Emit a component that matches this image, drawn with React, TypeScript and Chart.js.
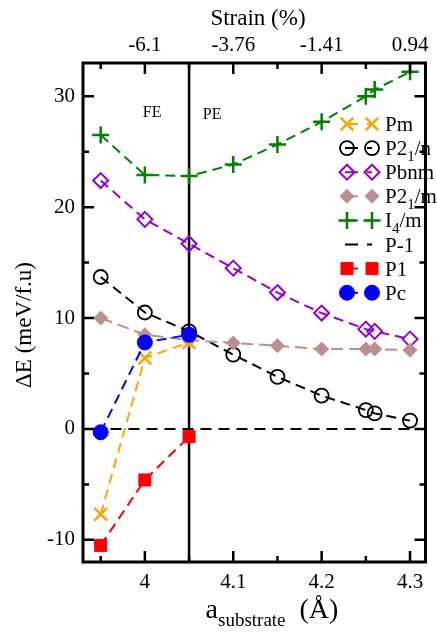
import React, { useEffect, useRef } from 'react';
import { Chart, registerables } from 'chart.js';
import { drawPoint } from 'chart.js/helpers';
Chart.register(...registerables);

// ---- data ----
const aAll = [3.95, 4.0, 4.05, 4.1, 4.15, 4.2, 4.25, 4.26, 4.3];
const aFE = [3.95, 4.0, 4.05];
const pmE = [-7.7, 6.4, 7.8];
const p1E = [-10.5, -4.6, -0.7];
const pcE = [-0.3, 7.8, 8.5];
const p21nE = [13.7, 10.5, 8.8, 6.7, 4.7, 3.0, 1.7, 1.4, 0.75];
const pbnmE = [22.4, 18.9, 16.7, 14.5, 12.3, 10.45, 9.0, 8.8, 8.1];
const p21mE = [10.0, 8.5, 8.0, 7.75, 7.5, 7.2, 7.2, 7.2, 7.1];
const i4mE = [26.5, 22.9, 22.8, 23.85, 25.65, 27.7, 30.0, 30.6, 32.2];
const refX = [3.9, 4.35];
const refE = [0, 0];

const seriesNames = ['Pm', 'P2_1/n', 'Pbnm', 'P2_1/m', 'I_4/m', 'P-1', 'P1', 'Pc'];
const xMajor = [4, 4.1, 4.2, 4.3];
const xMinor = [3.95, 4.05, 4.15, 4.25];
const strainLabels = ['-6.1', '-3.76', '-1.41', '0.94'];
const yMajor = [-10, 0, 10, 20, 30];
const yMinor = [-5, 5, 15, 25];
const xMin = 3.93;
const xMax = 4.3175;
const yMin = -12;
const yMax = 33;
const phaseBoundary = 4.05;

const FONT = '"Liberation Serif", "Times New Roman", serif';

const pts = (xs: number[], ys: number[]) => ys.map((y, i) => ({ x: xs[i], y }));

function drawRich(ctx: CanvasRenderingContext2D, text: string, x: number, y: number, size: number, subSize: number, align: 'left' | 'center') {
  const segs: { t: string; sub: boolean }[] = [];
  let i = 0;
  let buf = '';
  while (i < text.length) {
    const c = text[i];
    if (c === '_') {
      if (buf) { segs.push({ t: buf, sub: false }); buf = ''; }
      if (text[i + 1] === '{') {
        const end = text.indexOf('}', i + 2);
        segs.push({ t: text.slice(i + 2, end), sub: true });
        i = end + 1;
      } else {
        segs.push({ t: text[i + 1], sub: true });
        i += 2;
      }
    } else {
      buf += c;
      i++;
    }
  }
  if (buf) segs.push({ t: buf, sub: false });
  let total = 0;
  const widths = segs.map((s) => {
    ctx.font = `${s.sub ? subSize : size}px ${FONT}`;
    const w = ctx.measureText(s.t).width;
    total += w;
    return w;
  });
  let cx = align === 'center' ? x - total / 2 : x;
  ctx.textAlign = 'left';
  ctx.textBaseline = 'alphabetic';
  segs.forEach((s, k) => {
    ctx.font = `${s.sub ? subSize : size}px ${FONT}`;
    ctx.fillText(s.t, cx, s.sub ? y + size * 0.28 : y);
    cx += widths[k];
  });
}

const overlay = {
  id: 'overlay',
  beforeDatasetsDraw(chart: any) {
    const { ctx, chartArea: a, scales } = chart;
    const x = scales.x;
    ctx.save();
    const px = x.getPixelForValue(phaseBoundary);
    ctx.strokeStyle = '#000';
    ctx.lineWidth = 2.5;
    ctx.beginPath();
    ctx.moveTo(px, a.top);
    ctx.lineTo(px, a.bottom);
    ctx.stroke();
    ctx.fillStyle = '#000';
    ctx.font = `16px ${FONT}`;
    ctx.textAlign = 'center';
    ctx.textBaseline = 'middle';
    ctx.fillText('FE', px - 37, a.top + 50);
    ctx.fillText('PE', px + 23, a.top + 52);
    ctx.restore();
  },
  afterDraw(chart: any) {
    const { ctx, chartArea: a, scales } = chart;
    const x = scales.x;
    const y = scales.y;
    ctx.save();
    ctx.strokeStyle = '#000';
    ctx.lineWidth = 3;
    ctx.strokeRect(a.left, a.top, a.right - a.left, a.bottom - a.top);
    ctx.lineWidth = 2.5;
    ctx.beginPath();
    const tick = (vals: number[], len: number) => {
      vals.forEach((v) => {
        const p = x.getPixelForValue(v);
        ctx.moveTo(p, a.bottom); ctx.lineTo(p, a.bottom - len);
        ctx.moveTo(p, a.top); ctx.lineTo(p, a.top + len);
      });
    };
    const ytick = (vals: number[], len: number) => {
      vals.forEach((v) => {
        const p = y.getPixelForValue(v);
        ctx.moveTo(a.left, p); ctx.lineTo(a.left + len, p);
        ctx.moveTo(a.right, p); ctx.lineTo(a.right - len, p);
      });
    };
    tick(xMajor, 11);
    tick(xMinor, 6);
    ytick(yMajor, 11);
    ytick(yMinor, 6);
    ctx.stroke();

    ctx.fillStyle = '#000';
    drawRich(ctx, 'Strain (%)', 258, 25, 23, 16, 'center');
    drawRich(ctx, 'a_{substrate}  (Å)', 272, 618, 28, 19, 'center');
    ctx.save();
    ctx.translate(31, 325);
    ctx.rotate(-Math.PI / 2);
    drawRich(ctx, 'ΔE (meV/f.u)', 0, 0, 23, 16, 'center');
    ctx.restore();

    const ds = chart.data.datasets;
    const x1 = 347;
    const x2 = 372;
    seriesNames.forEach((name, i) => {
      const d = ds.find((q: any) => q.label === name);
      const ly = 124 + i * 24.1;
      ctx.save();
      ctx.strokeStyle = d.borderColor;
      ctx.lineWidth = 2;
      ctx.setLineDash([13, 9]);
      ctx.beginPath();
      ctx.moveTo(x1 - 2, ly);
      ctx.lineTo(x2, ly);
      ctx.stroke();
      ctx.setLineDash([]);
      if (d.pointRadius > 0) {
        [x1, x2].forEach((mx) => {
          ctx.fillStyle = d.pointBackgroundColor;
          ctx.strokeStyle = d.pointBorderColor;
          ctx.lineWidth = d.pointBorderWidth;
          drawPoint(ctx, { pointStyle: d.pointStyle, radius: d.pointRadius, rotation: 0, borderWidth: d.pointBorderWidth }, mx, ly);
        });
      }
      ctx.restore();
      ctx.fillStyle = '#000';
      drawRich(ctx, name, 385, ly + 7, 21, 15, 'left');
    });
    ctx.restore();
  },
};

function mk(label: string, xs: number[], ys: number[], color: string, style: string, radius: number, fill: boolean, bw: number, order: number, dash: number[]) {
  return {
    label,
    data: pts(xs, ys),
    borderColor: color,
    borderWidth: 2,
    borderDash: dash,
    pointStyle: style,
    pointRadius: radius,
    pointBackgroundColor: fill ? color : 'rgba(0,0,0,0)',
    pointBorderColor: color,
    pointBorderWidth: bw,
    tension: 0,
    fill: false,
    order,
  };
}

export default function App() {
  const ref = useRef<HTMLCanvasElement>(null);
  useEffect(() => {
    if (!ref.current) return;
    const tickFont = { family: FONT, size: 21 };
    const chart = new Chart(ref.current, {
      type: 'line',
      data: {
        datasets: [
          mk('Pm', aFE, pmE, '#FFA500', 'crossRot', 9, false, 2.5, 2, [10, 6]),
          mk('P2_1/n', aAll, p21nE, '#000000', 'circle', 7, false, 1.8, 4, [10, 6]),
          mk('Pbnm', aAll, pbnmE, '#9400D3', 'rectRot', 7.5, false, 2, 5, [10, 6]),
          mk('P2_1/m', aAll, p21mE, '#BC8F8F', 'rectRot', 7, true, 1, 3, [12, 6]),
          mk('I_4/m', aAll, i4mE, '#008000', 'cross', 8.5, false, 2.5, 6, [10, 6]),
          mk('P-1', refX, refE, '#000000', 'circle', 0, false, 0, 7, [11, 7]),
          mk('P1', aFE, p1E, '#FF0000', 'rect', 8.5, true, 1, 1, [10, 6]),
          mk('Pc', aFE, pcE, '#0000FF', 'circle', 7.5, true, 1, 0, [10, 6]),
        ] as any,
      },
      options: {
        responsive: false,
        animation: false,
        layout: { padding: { left: 0, right: 1, top: 0, bottom: 0 } },
        plugins: { legend: { display: false }, tooltip: { enabled: false } },
        scales: {
          x: {
            type: 'linear',
            position: 'bottom',
            min: xMin,
            max: xMax,
            grid: { display: false, drawTicks: false },
            border: { display: false },
            ticks: { font: tickFont, color: '#000', padding: 8, maxRotation: 0, autoSkip: false, callback: (v: any) => String(v) },
            afterBuildTicks: (s: any) => { s.ticks = xMajor.map((v) => ({ value: v })); },
            afterFit: (s: any) => { s.height = 71; },
          },
          x2: {
            type: 'linear',
            position: 'top',
            min: xMin,
            max: xMax,
            grid: { display: false, drawTicks: false },
            border: { display: false },
            ticks: { font: tickFont, color: '#000', padding: 5, maxRotation: 0, autoSkip: false, callback: (_v: any, i: number) => strainLabels[i] },
            afterBuildTicks: (s: any) => { s.ticks = xMajor.map((v) => ({ value: v })); },
            afterFit: (s: any) => { s.height = 63; },
          },
          y: {
            type: 'linear',
            position: 'left',
            min: yMin,
            max: yMax,
            grid: { display: false, drawTicks: false },
            border: { display: false },
            ticks: { font: tickFont, color: '#000', padding: 8, autoSkip: false },
            afterBuildTicks: (s: any) => { s.ticks = yMajor.map((v) => ({ value: v })); },
            afterFit: (s: any) => { s.width = 83; },
          },
        },
      } as any,
      plugins: [overlay],
    });
    return () => chart.destroy();
  }, []);
  return (
    <div style={{ position: 'absolute', left: 0, top: 0, width: 437, height: 633, background: '#fff' }}>
      <canvas ref={ref} width={437} height={633} style={{ display: 'block', width: 437, height: 633 }} />
    </div>
  );
}
